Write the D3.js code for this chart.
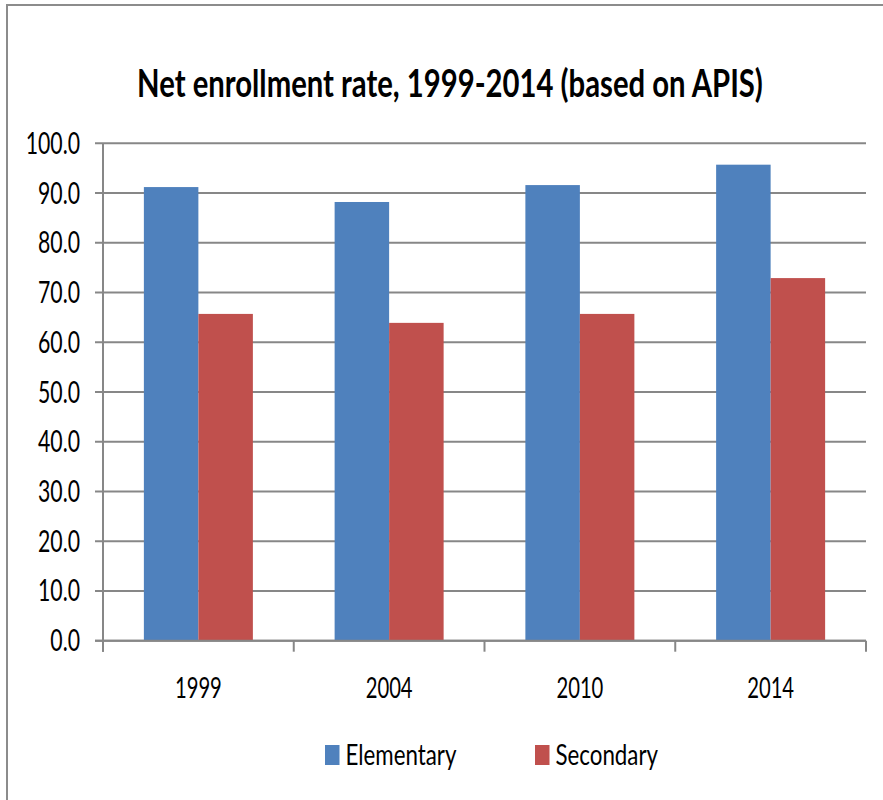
<!DOCTYPE html>
<html>
<head>
<meta charset="utf-8">
<script src="https://cdn.jsdelivr.net/npm/d3@7"></script>
<style>
  html, body { margin: 0; padding: 0; background: #fff; }
  svg { display: block; }
  text { font-family: Lato, "Open Sans", "Liberation Sans", sans-serif; }
</style>
</head>
<body>
<svg id="chart" width="883" height="800"></svg>
<script>
const categories = ["1999", "2004", "2010", "2014"];
const seriesNames = ["Elementary", "Secondary"];
const elementary = [91.2, 88.2, 91.6, 95.7];
const secondary = [65.7, 63.9, 65.7, 72.9];
const yTicks = [0, 10, 20, 30, 40, 50, 60, 70, 80, 90, 100];
const colors = ["#4F81BD", "#C0504D"];
const title = "Net enrollment rate, 1999-2014 (based on APIS)";

const svg = d3.select("#chart");

// helper: compute horizontal condense factor so a sample string matches a target width
function condense(sample, size, weight, targetWidth) {
  const t = svg.append("text").attr("font-size", size).attr("font-weight", weight).text(sample);
  const w = t.node().getComputedTextLength();
  t.remove();
  return targetWidth / w;
}

// outer frame
svg.append("rect")
  .attr("x", 7).attr("y", 5).attr("width", 900).attr("height", 820)
  .attr("fill", "none").attr("stroke", "#8c8c8c").attr("stroke-width", 2);

const pLeft = 103, pRight = 866, pTop = 143.3, pBottom = 640.7;

const x = d3.scaleBand().domain(categories).range([pLeft, pRight]).paddingInner(0).paddingOuter(0);
const x1 = d3.scaleBand().domain(seriesNames).range([0, x.bandwidth()]).paddingInner(0).paddingOuter(0.75);
const y = d3.scaleLinear().domain([0, 100]).range([pBottom, pTop]);

// gridlines
svg.append("g").selectAll("line").data(yTicks).join("line")
  .attr("x1", pLeft - 8).attr("x2", pRight)
  .attr("y1", d => y(d)).attr("y2", d => y(d))
  .attr("stroke", "#878787").attr("stroke-width", 2);

// y axis line
svg.append("line").attr("x1", pLeft).attr("x2", pLeft).attr("y1", pTop).attr("y2", pBottom + 11)
  .attr("stroke", "#878787").attr("stroke-width", 2);

// y tick labels
const tickSize = 30;
const sxTick = condense("10.0", tickSize, "normal", 42);
svg.append("g").selectAll("text").data(yTicks).join("text")
  .attr("transform", d => `translate(80,${y(d) + 10.5}) scale(${sxTick},1)`)
  .attr("text-anchor", "end")
  .attr("font-size", tickSize)
  .attr("fill", "#000")
  .text(d => d.toFixed(1));

// bars
const data = categories.map((c, i) => ({ cat: c, values: [elementary[i], secondary[i]] }));
const groups = svg.append("g").selectAll("g").data(data).join("g")
  .attr("transform", d => `translate(${x(d.cat)},0)`);
groups.selectAll("rect").data(d => d.values.map((v, j) => ({ name: seriesNames[j], v, j })))
  .join("rect")
  .attr("x", d => x1(d.name))
  .attr("width", x1.bandwidth())
  .attr("y", d => y(d.v))
  .attr("height", d => y(0) - y(d.v))
  .attr("fill", d => colors[d.j]);

// x axis line
svg.append("line").attr("x1", pLeft - 8).attr("x2", pRight).attr("y1", pBottom).attr("y2", pBottom)
  .attr("stroke", "#878787").attr("stroke-width", 2);

// category ticks (boundaries)
const boundaries = categories.map(c => x(c)).concat([pRight]);
svg.append("g").selectAll("line").data(boundaries).join("line")
  .attr("x1", d => d).attr("x2", d => d)
  .attr("y1", pBottom).attr("y2", pBottom + 11)
  .attr("stroke", "#878787").attr("stroke-width", 2);

// category labels
const catSize = 29;
const sxCat = condense("1999", catSize, "normal", 47);
svg.append("g").selectAll("text").data(categories).join("text")
  .attr("transform", d => `translate(${x(d) + x.bandwidth() / 2},698) scale(${sxCat},1)`)
  .attr("text-anchor", "middle")
  .attr("font-size", catSize)
  .attr("fill", "#000")
  .text(d => d);

// title
const titleSize = 38;
const sxTitle = condense(title, titleSize, "bold", 626);
svg.append("text")
  .attr("transform", `translate(450,97) scale(${sxTitle},1)`)
  .attr("text-anchor", "middle")
  .attr("font-size", titleSize)
  .attr("font-weight", "bold")
  .attr("fill", "#000")
  .text(title);

// legend
const legSize = 28;
const sxLeg = condense("Elementary", legSize, "normal", 111);
const legendX = [325, 535];
const legend = svg.append("g").selectAll("g").data(seriesNames).join("g")
  .attr("transform", (d, i) => `translate(${legendX[i]},745)`);
legend.append("rect").attr("width", 14.5).attr("height", 20).attr("fill", (d, i) => colors[i]);
legend.append("text")
  .attr("transform", `translate(20.5,20) scale(${sxLeg},1)`)
  .attr("font-size", legSize).attr("fill", "#000").text(d => d);
</script>
</body>
</html>
